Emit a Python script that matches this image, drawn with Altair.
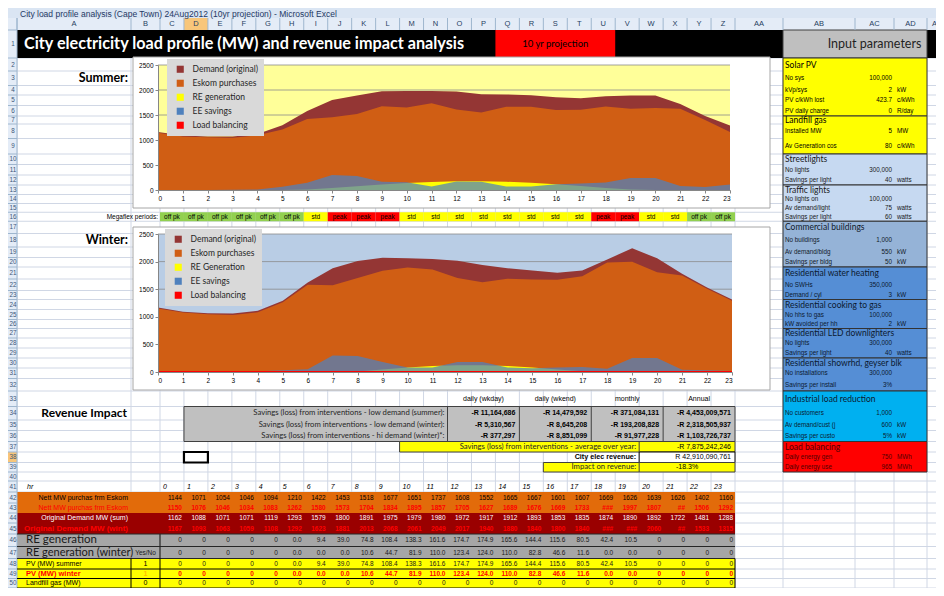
import altair as alt
import pandas as pd

# ------------------------------------------------------------------ values read from the sheet
HOURS = [0, 1, 2, 3, 4, 5, 6, 7, 8, 9, 10, 11, 12, 13, 14, 15, 16, 17, 18, 19, 20, 21, 22, 23]

SUMMER_DEMAND = [1162, 1088, 1071, 1071, 1119, 1293, 1579, 1800, 1891, 1975, 1979, 1980,
                 1972, 1917, 1912, 1893, 1853, 1835, 1874, 1890, 1892, 1722, 1481, 1288]
SUMMER_ESKOM = [1144, 1071, 1054, 1046, 1094, 1210, 1422, 1453, 1518, 1677, 1651, 1737,
                1608, 1552, 1665, 1667, 1601, 1607, 1669, 1626, 1639, 1626, 1402, 1160]
SUMMER_RE = [0, 0, 0, 0, 0, 0.0, 9.4, 39.0, 74.8, 108.4, 138.3, 161.6,
             174.7, 174.9, 165.6, 144.4, 115.6, 80.5, 42.4, 10.5, 0, 0, 0, 0]
SUMMER_EE = [0, 0, 0, 5, 10, 65, 145, 300, 280, 165, 155, 70,
             170, 165, 70, 70, 115, 130, 150, 240, 240, 80, 60, 110]

WINTER_DEMAND = [1167, 1093, 1063, 1059, 1108, 1292, 1623, 1881, 2013, 2068, 2061, 2049,
                 2017, 1940, 1880, 1840, 1800, 1840, 2040, 2240, 2060, 1780, 1533, 1315]
WINTER_ESKOM = [1150, 1076, 1046, 1034, 1083, 1262, 1580, 1573, 1704, 1834, 1895, 1857,
                1705, 1627, 1689, 1676, 1669, 1733, 1985, 1997, 1807, 1750, 1506, 1292]
WINTER_RE = [0, 0, 0, 0, 0, 0.0, 0.0, 0.0, 10.6, 44.7, 81.9, 110.0,
             123.4, 124.0, 110.0, 82.8, 46.6, 11.6, 0.0, 0.0, 0, 0, 0, 0]
WINTER_EE = [15, 10, 10, 10, 15, 30, 50, 300, 290, 180, 80, 80,
             180, 180, 80, 70, 80, 90, 60, 255, 255, 40, 30, 20]
WINTER_LOAD_BAL = [0, 0, 0, 0, 0, 0, 0, 0, 0, 0, 0, 0,
                   0, 0, 0, 0, 0, 0, 0, 0, 0, 0, 0, 0]
LANDFILL = [0, 0, 0, 0, 0, 0, 0, 0, 0, 0, 0, 0,
            0, 0, 0, 0, 0, 0, 0, 0, 0, 0, 0, 0]

Y_TICKS = [0, 500, 1000, 1500, 2000, 2500]
GRID_VALUES = [500, 1000, 1500, 2000, 2500]

SUMMER_SERIES = ["Demand (original)", "Eskom purchases", "RE generation", "EE savings", "Load balancing"]
WINTER_SERIES = ["Demand (original)", "Eskom purchases", "RE Generation", "EE savings", "Load balancing"]

MEGAFLEX = ["off pk", "off pk", "off pk", "off pk", "off pk", "off pk", "std", "peak", "peak", "peak",
            "std", "std", "std", "std", "std", "std", "std", "std", "peak", "peak", "std", "std",
            "off pk", "off pk"]

REV_HEADERS = ["daily (wkday)", "daily (wkend)", "monthly", "Annual"]
REV_LABELS = ["Savings (loss) from interventions - low demand (summer):",
              "Savings (loss) from interventions - low demand (winter):",
              "Savings (loss) from interventions - hi demand (winter)*:"]
REV_VALUES = [["-R 11,164,686", "-R 14,479,592", "-R 371,084,131", "-R 4,453,009,571"],
              ["-R 5,310,567", "-R 8,645,208", "-R 193,208,828", "-R 2,318,505,937"],
              ["-R 377,297", "-R 8,851,099", "-R 91,977,228", "-R 1,103,726,737"]]
AVG_LABEL = "Savings (loss) from interventions - average over year:"
AVG_VALUE = "-R 7,875,242,246"
REVENUE_LABEL = "City elec revenue:"
REVENUE_VALUE = "R 42,910,090,761"
IMPACT_LABEL = "Impact on revenue:"
IMPACT_VALUE = "-18.3%"

WINDOW_TITLE = "City load profile analysis (Cape Town) 24Aug2012 (10yr projection) - Microsoft Excel"
SHEET_TITLE = "City electricity load profile (MW) and revenue impact analysis"
PROJECTION = "10 yr projection"
PANEL_TITLE = "Input parameters"

# panel sections: name, first row, last row
PANEL_SECTIONS = [
    ("Solar PV", 2, 6), ("Landfill gas", 7, 9), ("Streetlights", 10, 12), ("Traffic lights", 13, 16),
    ("Commercial buildings", 17, 20), ("Residential water heating", 21, 23),
    ("Residential cooking to gas", 24, 26), ("Residential LED downlighters", 27, 29),
    ("Residential showrhd, geyser blk", 30, 32), ("Industrial load reduction", 33, 36),
    ("Load balancing", 37, 39)]
PANEL_ITEMS = [
    (3, "No sys", "100,000", ""), (4, "kVp/sys", "2", "kW"), (5, "PV c/kWh lost", "423.7", "c/kWh"),
    (6, "PV daily charge", "0", "R/day"), (8, "Installed MW", "5", "MW"), (9, "Av Generation cos", "80", "c/kWh"),
    (11, "No lights", "300,000", ""), (12, "Savings per light", "40", "watts"),
    (14, "No lights on", "100,000", ""), (15, "Av demand/light", "75", "watts"), (16, "Savings per light", "60", "watts"),
    (18, "No buildings", "1,000", ""), (19, "Av demand/bldg", "550", "kW"), (20, "Savings per bldg", "50", "kW"),
    (22, "No SWHs", "350,000", ""), (23, "Demand / cyl", "3", "kW"),
    (25, "No hhs to gas", "100,000", ""), (26, "kW avoided per hh", "2", "kW"),
    (28, "No lights", "300,000", ""), (29, "Savings per light", "40", "watts"),
    (31, "No installations", "300,000", ""), (32, "Savings per install", "3%", ""),
    (34, "No customers", "1,000", ""), (35, "Av demand/cust (j", "600", "kW"), (36, "Savings per custo", "5%", "kW"),
    (38, "Daily energy gen", "750", "MWh"), (39, "Daily energy use", "965", "MWh")]

# ------------------------------------------------------------------ styles / layout
OFF = 8
W, H = 928, 580
SANS = "Liberation Sans"
LATO = "Lato"
SERIES_COLORS = ["#943634", "#d05e14", "#ffff00", "#4f81bd", "#ff0000"]
PERIOD_COLORS = {"off pk": "#92d050", "std": "#ffff00", "peak": "#ff0000"}
SECTION_FILLS = ["#ffff00", "#ffff00", "#c6d9f1", "#c6d9f1", "#95b3d7", "#558ed5", "#558ed5",
                 "#558ed5", "#558ed5", "#00b0f0", "#ff0000"]
SECTION_TEXT = ["#000000", "#000000", "#1a1a1a", "#1a1a1a", "#111a2a", "#0c1a30", "#0c1a30",
                "#0c1a30", "#0c1a30", "#0c1a30", "#500000"]
COL_LETTERS = list("ABCDEFGHIJKLMNOPQRSTUVWXYZ") + ["AA", "AB", "AC", "AD"]
HIDDEN = {43: {18: "###", 21: "##"}, 45: {18: "###", 19: "###", 21: "##"}}


def P(v):
    return v - OFF


# sheet column edges (index -> page px) and row centres (row -> page px)
COL_EDGE_IDX = [0, 1, 2] + [3 + i for i in range(25)] + [28, 29, 30, 31, 32]
COL_EDGE_PX = [0, 17, 131] + [160 + i * 575 / 24 for i in range(25)] + [783, 855, 894, 927, 975]
XS = alt.Scale(domain=COL_EDGE_IDX, range=[P(v) for v in COL_EDGE_PX], nice=False, zero=False)

ROW_CENTER = {-1: 9, 0: 24, 1: 44, 2: 62, 3: 80, 4: 91, 5: 99, 6: 112, 7: 120, 8: 128, 9: 149,
              10: 159, 11: 170, 12: 180, 13: 190, 14: 199, 15: 208, 16: 216.5, 17: 226, 18: 241,
              19: 253, 20: 262, 21: 272, 22: 286, 23: 295, 24: 304, 25: 315, 26: 324, 27: 333,
              28: 343, 29: 353, 30: 363, 31: 373, 32: 384, 33: 398, 34: 415, 35: 425, 36: 436,
              37: 447, 38: 457, 39: 468, 40: 476, 41: 486, 42: 498, 43: 508, 44: 518, 45: 528,
              46: 540, 47: 553, 48: 564, 49: 574, 50: 583, 51: 592}
TOP_FIXED = {-1: 0, 0: 18, 1: 30, 2: 58, 51: 588, 52: 600}
ROW_EDGE_IDX, ROW_EDGE_PX = [], []
for r in range(-1, 53):
    ROW_EDGE_IDX.append(r - 0.5)
    ROW_EDGE_PX.append(P(TOP_FIXED[r] if r in TOP_FIXED else (ROW_CENTER[r - 1] + ROW_CENTER[r]) / 2))
YS = alt.Scale(domain=ROW_EDGE_IDX, range=ROW_EDGE_PX, nice=False, zero=False)

ONE = pd.DataFrame({"k": [0]})

grid, rects, borders, texts = [], [], [], []


def rect(c0, c1, r0, r1, fill, stroke="transparent", sw=0.0):
    rects.append(dict(c0=c0, c1=c1, y0=r0 - 0.5, y1=r1 + 0.5, fill=fill, stroke=stroke, sw=sw))


def line(c0, c1, y0, y1, color="#000000", sw=1.0, target=None):
    (borders if target is None else target).append(dict(x0=c0, x1=c1, y0=y0, y1=y1, color=color, sw=sw))


def text(c, r, t, color="#000000", size=7.0, font=SANS, weight="normal", align="left", dx=0.0, style="normal"):
    texts.append(dict(x=c, y=r, t=t, color=color, size=size, font=font, weight=weight,
                      align=align, dx=dx, style=style))


# ---- excel grid
for k in range(1, 33):
    line(k, k, 0.5, 50.5, "#d0d7e5", 1.0, grid)
for r in range(0, 51):
    line(0, 32, r + 0.5, r + 0.5, "#d0d7e5", 1.0, grid)

# ---- window chrome
rect(0, 32, -1, -1, "#dae5f3")
rect(0, 32, 0, 0, "#e4ecf7")
rect(4, 5, 0, 0, "#f8c67a")
rect(0, 1, 1, 50, "#e4ecf7")
rect(0, 1, 38, 38, "#f8c67a")
for k in range(1, 33):
    line(k, k, -0.5, 0.5, "#9eb6ce", 1.0)
for r in range(0, 51):
    line(0, 1, r + 0.5, r + 0.5, "#9eb6ce", 1.0)
line(1, 1, -0.5, 50.5, "#9eb6ce", 1.0)
for k, letter in enumerate(COL_LETTERS, start=1):
    text(k + 0.5, 0, letter, "#27415f", 7.5, SANS, "normal", "center")
text(31, 0, "A", "#27415f", 7.5, SANS, "normal", "left", 5)
for r in range(1, 51):
    text(0.5, r, str(r), "#3b5677", 6.3, SANS, "normal", "center", 4.5)

# ---- row 1 banner
rect(1, 32, 1, 1, "#000000")
rect(17, 22, 1, 1, "#ff0000")
rect(28, 31, 1, 1, "#bfbfbf", "#404040", 1.0)
text(1, 1, SHEET_TITLE, "#ffffff", 16.2, LATO, "bold", "left", 7)
text(19.5, 1, PROJECTION, "#000000", 9.5, LATO, "normal", "center")
text(29.5, 1, PANEL_TITLE, "#1f1f1f", 12.5, LATO, "normal", "center")

# ---- labels column A
text(2, 3, "Summer:", "#000000", 12.5, LATO, "bold", "right", -3)
text(2, 18, "Winter:", "#000000", 12.5, LATO, "bold", "right", -3)
text(2, 34, "Revenue Impact", "#000000", 12, LATO, "bold", "right", -4)

# ---- megaflex periods
text(3, 16, "Megaflex periods:", "#000000", 6.5, SANS, "normal", "right", -2)
for h, p in zip(HOURS, MEGAFLEX):
    rect(3 + h, 4 + h, 16, 16, PERIOD_COLORS[p])
    text(3.5 + h, 16, p, "#000000", 6.5, SANS, "normal", "center")

# ---- revenue impact table
rect(4, 27, 34, 36, "#c0c0c0", "#404040", 1.0)
for k in (15, 18, 21, 24):
    line(k, k, 33.5, 36.5, "#404040", 1.0)
for i, hd in enumerate(REV_HEADERS):
    text(16.5 + 3 * i, 33, hd, "#000000", 7, SANS, "normal", "center")
for i, (lab, vals) in enumerate(zip(REV_LABELS, REV_VALUES)):
    text(15, 34 + i, lab, "#262626", 7.7, LATO, "normal", "right", -3)
    for j, v in enumerate(vals):
        text(18 + 3 * j, 34 + i, v, "#000000", 7, SANS, "bold", "right", -4)
rect(13, 27, 37, 37, "#ffff00", "#404040", 1.0)
line(23, 23, 36.5, 37.5, "#404040", 1.0)
text(23, 37, AVG_LABEL, "#262626", 7.7, LATO, "normal", "right", -3)
text(27, 37, AVG_VALUE, "#000000", 7, SANS, "normal", "right", -4)
rect(23, 27, 38, 38, "#ffffff", "#000000", 1.0)
text(23, 38, REVENUE_LABEL, "#000000", 7.2, SANS, "bold", "right", -3)
text(27, 38, REVENUE_VALUE, "#000000", 7, SANS, "normal", "right", -4)
rect(19, 27, 39, 39, "#ffff00", "#404040", 1.0)
line(23, 23, 38.5, 39.5, "#404040", 1.0)
text(23, 39, IMPACT_LABEL, "#262626", 7.7, LATO, "normal", "right", -3)
text(25, 39, IMPACT_VALUE, "#000000", 7, SANS, "normal", "center")
rect(4, 5, 38, 38, "transparent", "#000000", 2.2)

# ---- hourly table
text(1, 41, "hr", "#000000", 7, SANS, "normal", "left", 10, "italic")
for h in HOURS:
    text(3 + h, 41, str(h), "#000000", 7, SANS, "normal", "left", 3, "italic")
rect(1, 27, 42, 43, "#e26b0a")
rect(1, 27, 44, 45, "#9a0000")
rect(1, 27, 46, 47, "#a6a6a6")
rect(1, 27, 48, 50, "#ffff00")
for y in (45.5, 46.5, 47.5):
    line(1, 27, y, y, "#262626", 1.2)
line(3, 3, 45.5, 47.5, "#262626", 1.2)
for y in (48.5, 49.5, 50.5):
    line(1, 27, y, y, "#000000", 1.0)
for k in (2, 3, 27):
    line(k, k, 47.5, 50.5, "#000000", 1.0)

text(2, 42, "Nett MW purchas frm Eskom", "#000000", 7, SANS, "normal", "right", -3)
text(2, 43, "Nett MW purchas frm Eskom", "#ff0000", 7, SANS, "normal", "right", -3)
text(2, 44, "Original Demand MW (sum)", "#ffffff", 7, SANS, "normal", "right", -3)
text(2, 45, "Original Demand MW (wint)", "#ff0000", 8, SANS, "bold", "right", -3)
text(1, 46, "RE generation", "#1a1a1a", 11.5, LATO, "normal", "left", 9)
text(1, 47, "RE generation (winter)", "#1a1a1a", 11, LATO, "normal", "left", 9)
text(2.5, 47, "Yes/No", "#1a1a1a", 6.5, SANS, "normal", "center")
text(1, 48, "PV (MW) summer", "#000000", 7, SANS, "normal", "left", 9)
text(1, 49, "PV (MW) winter", "#ff0000", 7.5, SANS, "bold", "left", 9)
text(1, 50, "Landfill gas (MW)", "#000000", 7, SANS, "normal", "left", 9)
text(2.5, 48, "1", "#000000", 7, SANS, "normal", "center")
text(2.5, 49, "1", "#ffc000", 7, SANS, "bold", "center")
text(2.5, 50, "0", "#000000", 7, SANS, "normal", "center")

for r, vals, col, wt in [(42, SUMMER_ESKOM, "#000000", "normal"), (43, WINTER_ESKOM, "#ff0000", "bold"),
                         (44, SUMMER_DEMAND, "#ffffff", "normal"), (45, WINTER_DEMAND, "#ff0000", "bold")]:
    for h, v in zip(HOURS, vals):
        text(4 + h, r, HIDDEN.get(r, {}).get(h, f"{v:.0f}"), col, 6.5, SANS, wt, "right", -2)


def re_fmt(h, v):
    return "0" if (h < 5 or h > 19) else f"{v:.1f}"


for r, vals, col, wt in [(46, SUMMER_RE, "#1a1a1a", "normal"), (47, WINTER_RE, "#1a1a1a", "normal"),
                         (48, SUMMER_RE, "#1a1a1a", "normal"), (49, WINTER_RE, "#ff0000", "bold")]:
    for h, v in zip(HOURS, vals):
        text(4 + h, r, re_fmt(h, v), col, 6.5, SANS, wt, "right", -2)
for h, v in zip(HOURS, LANDFILL):
    text(4 + h, 50, f"{v:.0f}", "#1a1a1a", 6.5, SANS, "normal", "right", -2)

# ---- input parameter panel
for (name, r0, r1), fill, tc in zip(PANEL_SECTIONS, SECTION_FILLS, SECTION_TEXT):
    rect(28, 31, r0, r1, fill, "#333333", 1.0)
    text(28, r0, name, tc, 8.5, LATO, "normal", "left", 2)
    for (r, lab, val, unit) in PANEL_ITEMS:
        if r0 < r <= r1:
            text(28, r, lab, tc, 6.3, SANS, "normal", "left", 2)
            text(30, r, val, tc, 6.3, SANS, "normal", "right", -2)
            if unit:
                text(30, r, unit, tc, 6.3, SANS, "normal", "left", 3)


# ------------------------------------------------------------------ sheet layers
def rule_layer(items):
    return alt.Chart(pd.DataFrame(items)).mark_rule().encode(
        x=alt.X("x0:Q", scale=XS, axis=None), x2="x1:Q",
        y=alt.Y("y0:Q", scale=YS, axis=None), y2="y1:Q",
        color=alt.Color("color:N", scale=None),
        strokeWidth=alt.StrokeWidth("sw:Q", scale=None))


rect_layer = alt.Chart(pd.DataFrame(rects)).mark_rect().encode(
    x=alt.X("c0:Q", scale=XS, axis=None), x2="c1:Q",
    y=alt.Y("y0:Q", scale=YS, axis=None), y2="y1:Q",
    fill=alt.Fill("fill:N", scale=None), stroke=alt.Stroke("stroke:N", scale=None),
    strokeWidth=alt.StrokeWidth("sw:Q", scale=None))

sheet_bg = alt.layer(rule_layer(grid), rect_layer, rule_layer(borders))

tdf = pd.DataFrame(texts)
text_layers = []
for (font, weight, align, dx, style), g in tdf.groupby(["font", "weight", "align", "dx", "style"], sort=False):
    text_layers.append(
        alt.Chart(g.reset_index(drop=True)).mark_text(
            font=font, fontWeight=weight, align=align, dx=float(dx), fontStyle=style, baseline="middle"
        ).encode(
            x=alt.X("x:Q", scale=XS, axis=None), y=alt.Y("y:Q", scale=YS, axis=None),
            text="t:N", color=alt.Color("color:N", scale=None), size=alt.Size("size:Q", scale=None)))
text_layers.append(
    alt.Chart(ONE).mark_text(text=WINDOW_TITLE, font=SANS, fontSize=8.5, align="left",
                             baseline="middle", color="#1f3864").encode(x=alt.value(P(20)), y=alt.value(P(13.5))))
sheet_fg = alt.layer(*text_layers)


# ------------------------------------------------------------------ load profile charts
def load_profile(names, demand, eskom, re_gen, ee, lb, bg, box, xr, yr, leg):
    xs = alt.Scale(domain=[0, 23], range=[P(xr[0]), P(xr[1])], nice=False, zero=False)
    ys = alt.Scale(domain=[0, 2500], range=[P(yr[0]), P(yr[1])], nice=False)
    xax = alt.Axis(orient="bottom", offset=P(yr[0]) - H, values=HOURS, format="d", title=None, grid=False,
                   labelFont=SANS, labelFontSize=6.5, labelColor="#000000", labelPadding=2, labelAngle=0,
                   labelOverlap=False, tickColor="#868686", tickSize=3, domainColor="#868686", zindex=1)
    yax = alt.Axis(orient="left", offset=-P(xr[0]), values=Y_TICKS, format="d", title=None, grid=False,
                   labelFont=SANS, labelFontSize=6.5, labelColor="#000000", labelPadding=2,
                   tickColor="#868686", tickSize=3, domainColor="#868686", zindex=1)
    cs = alt.Scale(domain=names, range=SERIES_COLORS)
    lg = alt.Legend(orient="none", legendX=P(leg[0]), legendY=P(leg[1]), title=None, fillColor="#d9d9d9",
                    padding=6, symbolType="square", symbolSize=50, symbolStrokeWidth=0, symbolOpacity=1,
                    symbolOffset=3, labelOffset=8, labelFont=LATO, labelFontSize=8.5, labelColor="#262626",
                    rowPadding=5, zindex=2)
    frame = alt.Chart(ONE).mark_rect(fill="#ffffff", stroke="#a6a6a6", strokeWidth=1).encode(
        x=alt.value(P(box[0])), x2=alt.value(P(box[2])), y=alt.value(P(box[1])), y2=alt.value(P(box[3])))
    plot = alt.Chart(pd.DataFrame({"h0": [0], "h1": [23], "v0": [0], "v1": [2500]})).mark_rect(fill=bg).encode(
        x=alt.X("h0:Q", scale=xs, axis=xax), x2="h1:Q", y=alt.Y("v0:Q", scale=ys, axis=yax), y2="v1:Q")
    gl = alt.Chart(pd.DataFrame({"v": GRID_VALUES})).mark_rule(color="#8c8c8c", strokeWidth=0.8).encode(
        x=alt.XDatum(0, type="quantitative", scale=xs, axis=xax), x2=alt.X2Datum(23),
        y=alt.Y("v:Q", scale=ys, axis=yax))

    def series_df(name, vals):
        return pd.DataFrame({"hour": HOURS, "mw": vals, "series": name})

    def area(name, vals, opacity=1.0):
        return alt.Chart(series_df(name, vals)).mark_area(opacity=opacity, interpolate="linear").encode(
            x=alt.X("hour:Q", scale=xs, axis=xax),
            y=alt.Y("mw:Q", scale=ys, axis=yax, stack=None), y2=alt.Y2Datum(0),
            color=alt.Color("series:N", scale=cs, legend=lg))

    layers = [frame, plot, gl,
              area(names[0], demand), area(names[1], eskom), area(names[2], re_gen), area(names[3], ee, 0.73)]
    if lb is not None:
        layers.append(alt.Chart(series_df(names[4], lb)).mark_line(strokeWidth=2).encode(
            x=alt.X("hour:Q", scale=xs, axis=xax), y=alt.Y("mw:Q", scale=ys, axis=yax, stack=None),
            color=alt.Color("series:N", scale=cs, legend=lg)))
    return alt.layer(*layers)


summer = load_profile(SUMMER_SERIES, SUMMER_DEMAND, SUMMER_ESKOM, SUMMER_RE, SUMMER_EE, None,
                      "#ffff99", (133, 57, 770, 208), (158, 730), (190, 65), (167, 59))
winter = load_profile(WINTER_SERIES, WINTER_DEMAND, WINTER_ESKOM, WINTER_RE, WINTER_EE, WINTER_LOAD_BAL,
                      "#b9cde5", (133, 227, 770, 390), (158, 732), (372, 234), (165, 229))

chart = alt.layer(sheet_bg, summer, winter, sheet_fg).resolve_scale(
    x="independent", y="independent", color="independent"
).properties(
    width=W, height=H, padding=0, autosize=alt.AutoSizeParams(type="none")
).configure_view(stroke=None).configure(background="#ffffff")

chart.save("out.html", embed_options={"renderer": "svg", "actions": False})
